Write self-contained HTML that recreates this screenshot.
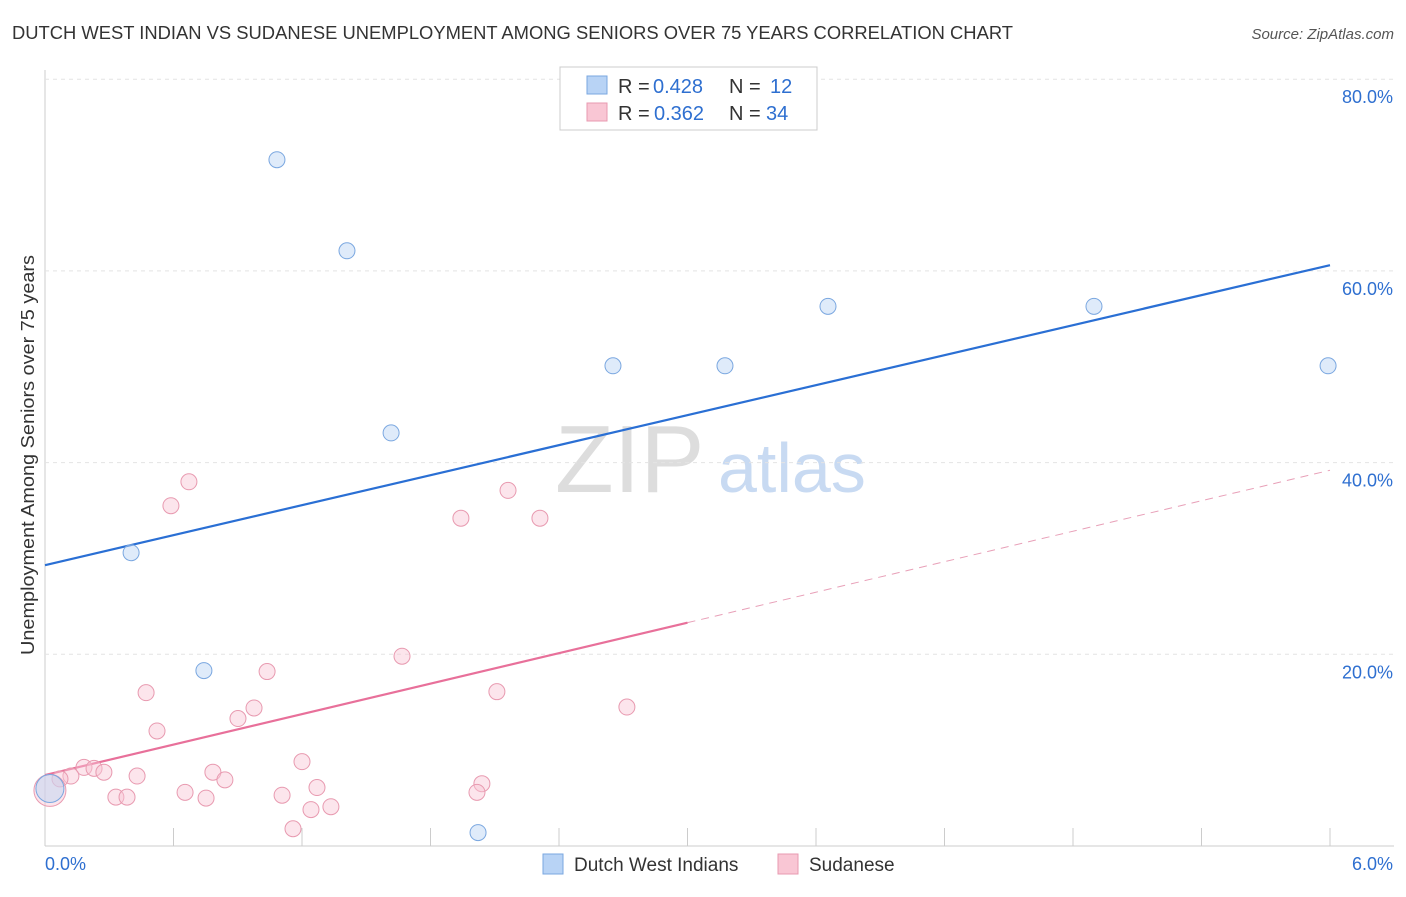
<!DOCTYPE html>
<html><head><meta charset="utf-8"><style>
body{margin:0;background:#fff;font-family:"Liberation Sans",sans-serif}
svg text{font-family:"Liberation Sans",sans-serif}
</style></head><body>
<svg width="1406" height="892" id="c">
<text x="12" y="39" font-size="18" fill="#333" textLength="1001" lengthAdjust="spacingAndGlyphs">DUTCH WEST INDIAN VS SUDANESE UNEMPLOYMENT AMONG SENIORS OVER 75 YEARS CORRELATION CHART</text>
<text x="1394" y="39" font-size="15" fill="#555" font-style="italic" text-anchor="end">Source: ZipAtlas.com</text>
<text x="34" y="655" font-size="18" fill="#333" textLength="400" lengthAdjust="spacingAndGlyphs" transform="rotate(-90 34 655)">Unemployment Among Seniors over 75 years</text>
<text x="555" y="492" font-size="96" fill="#ddd" font-family="Liberation Serif">ZIP</text>
<text x="718" y="492" font-size="70" fill="#c8daf2">atlas</text>
<g id="grid"></g><g id="lines"></g><g id="pts"></g>
<g>
<rect x="560" y="67" width="257" height="63" fill="#fff" stroke="#ccc"/>
<rect x="587" y="76" width="20" height="18" fill="#b8d3f5" stroke="#7aa7e0"/>
<text x="618" y="93" font-size="20" fill="#333">R = </text><text x="653" y="93" font-size="20" fill="#2e6fd0">0.428</text>
<text x="729" y="93" font-size="20" fill="#333">N = </text><text x="770" y="93" font-size="20" fill="#2e6fd0">12</text>
<rect x="587" y="103" width="20" height="18" fill="#f9c6d4" stroke="#e89ab0"/>
<text x="618" y="120" font-size="20" fill="#333">R = </text><text x="654" y="120" font-size="20" fill="#2e6fd0">0.362</text>
<text x="729" y="120" font-size="20" fill="#333">N = </text><text x="766" y="120" font-size="20" fill="#2e6fd0">34</text>
</g>
<g>
<rect x="543" y="854" width="20" height="20" fill="#b8d3f5" stroke="#7aa7e0"/>
<text x="574" y="871" font-size="19" fill="#333">Dutch West Indians</text>
<rect x="778" y="854" width="20" height="20" fill="#f9c6d4" stroke="#e89ab0"/>
<text x="809" y="871" font-size="19" fill="#333">Sudanese</text>
</g>
</svg>
<script>
const yTicks=[20,40,60,80];
const xTickLabels=["0.0%","6.0%"];
const blueX=[1.083,1.410,1.616,0.402,0.742,2.022,2.652,3.175,3.656,4.898,5.991,0.023];
const blueY=[71.6,62.1,43.1,30.6,18.3,1.4,50.1,50.1,56.3,56.3,50.1,6.0];
const pinkX=[0.672,0.588,1.942,2.162,2.311,1.667,1.037,0.472,2.110,2.717,0.976,0.901,0.523,1.200,0.182,0.229,0.275,0.430,0.784,0.121,0.070,0.840,1.270,2.040,0.654,1.107,2.017,0.331,0.383,0.752,1.335,1.242,1.158,0.023];
const pinkY=[38.0,35.5,34.2,37.1,34.2,19.8,18.2,16.0,16.1,14.5,14.4,13.3,12.0,8.8,8.2,8.1,7.7,7.3,7.7,7.3,7.0,6.9,6.1,6.5,5.6,5.3,5.6,5.1,5.1,5.0,4.1,3.8,1.8,5.8];
const blueLine=[29.3,60.6];
const pinkLine=[7.4,39.2];
const pinkSolidEnd=3.0;
const X=v=>45+v/6*1285, Y=v=>846-v*9.585;
const NS="http://www.w3.org/2000/svg";
function mk(p,t,a){const e=document.createElementNS(NS,t);for(const k in a)e.setAttribute(k,a[k]);document.getElementById(p).appendChild(e);return e;}
let e=mk('grid','line',{x1:45,y1:70,x2:45,y2:846,stroke:'#ccc'});

e=mk('grid','line',{x1:45,y1:846,x2:1394,y2:846,stroke:'#ccc'});

yTicks.forEach(t=>{e=mk('grid','line',{x1:45,y1:Y(t),x2:1394,y2:Y(t),stroke:'#e4e4e4','stroke-dasharray':'4,4'});

e=mk('grid','text',{x:1393,y:Y(t)+24,'font-size':18,fill:'#2e6fd0','text-anchor':'end'});e.textContent=t.toFixed(1)+'%';
});
for(let i=0;i<=10;i++){e=mk('grid','line',{x1:X(i*0.6),y1:828,x2:X(i*0.6),y2:846,stroke:'#ccc'});
}
e=mk('grid','text',{x:45,y:870,'font-size':18,fill:'#2e6fd0'});e.textContent=xTickLabels[0];

e=mk('grid','text',{x:1393,y:870,'font-size':18,fill:'#2e6fd0','text-anchor':'end'});e.textContent=xTickLabels[1];

e=mk('lines','line',{x1:X(0),y1:Y(blueLine[0]),x2:X(6),y2:Y(blueLine[1]),stroke:'#2a6fd4','stroke-width':2.2});

const py=v=>pinkLine[0]+(pinkLine[1]-pinkLine[0])*v/6;
e=mk('lines','line',{x1:X(0),y1:Y(py(0)),x2:X(pinkSolidEnd),y2:Y(py(pinkSolidEnd)),stroke:'#e8709a','stroke-width':2.2});

e=mk('lines','line',{x1:X(pinkSolidEnd),y1:Y(py(pinkSolidEnd)),x2:X(6),y2:Y(py(6)),stroke:'#e8a0b8','stroke-width':1,'stroke-dasharray':'8,6'});

pinkX.forEach((x,i)=>{const big=i==pinkX.length-1;e=mk('pts','circle',{cx:X(x),cy:Y(pinkY[i]),r:big?16:8,fill:'#f9c6d4','fill-opacity':0.45,stroke:'#e89ab0'});
});
blueX.forEach((x,i)=>{const big=i==blueX.length-1;e=mk('pts','circle',{cx:X(x),cy:Y(blueY[i]),r:big?14:8,fill:'#b8d3f5','fill-opacity':0.45,stroke:'#7aa7e0'});
});
</script>
</body></html>
